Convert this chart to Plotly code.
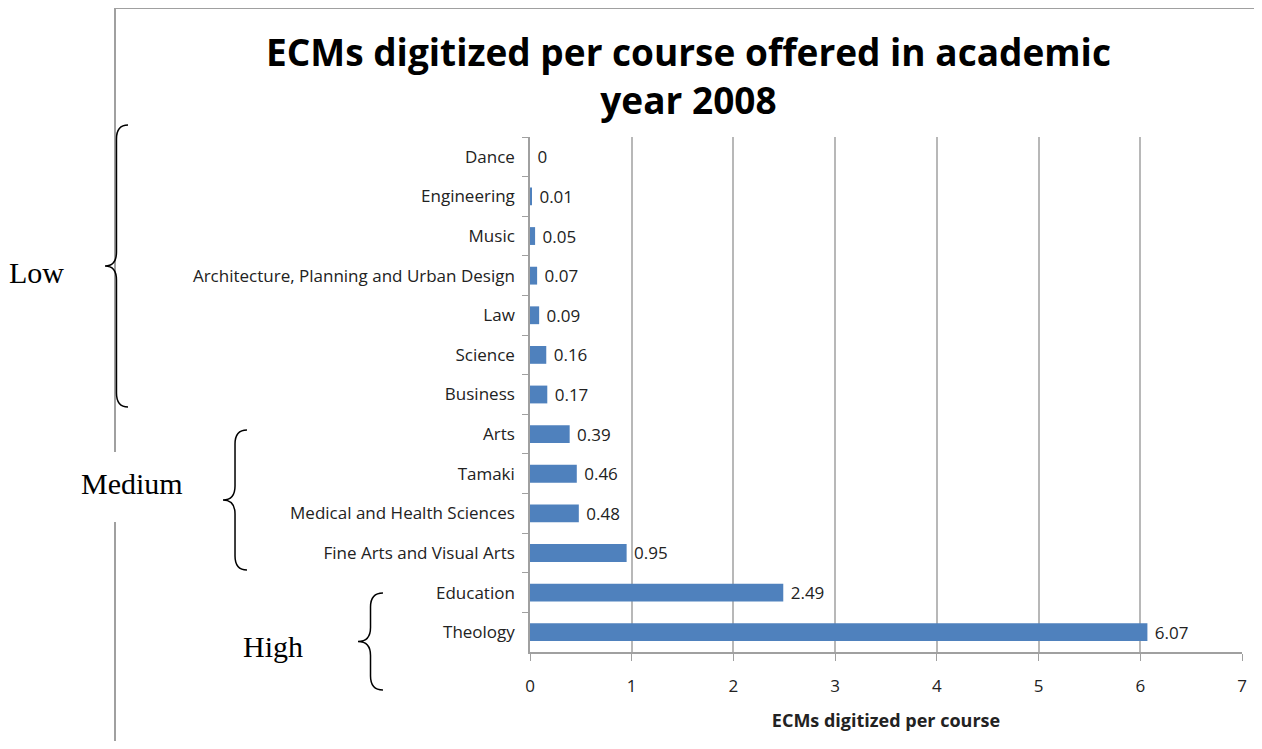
import plotly.graph_objects as go

# data, top to bottom as shown
courses = ['Dance', 'Engineering', 'Music', 'Architecture, Planning and Urban Design', 'Law',
           'Science', 'Business', 'Arts', 'Tamaki', 'Medical and Health Sciences',
           'Fine Arts and Visual Arts', 'Education', 'Theology']
ecms = [0, 0.01, 0.05, 0.07, 0.09, 0.16, 0.17, 0.39, 0.46, 0.48, 0.95, 2.49, 6.07]
x_ticks = [0, 1, 2, 3, 4, 5, 6, 7]
groups = ['Low', 'Medium', 'High']

# page body has an 8px margin -> figure is drawn at (8, 8)
OFF = 8
W, H = 1262 - 2 * OFF, 749 - 2 * OFF
ML, MT = 530 - OFF, 137 - OFF
PW, PH = 712, 515
MR, MB = W - ML - PW, H - MT - PH


def px(x):
    # screen x -> paper
    return (x - OFF - ML) / PW


def py(y):
    # screen y -> paper
    return (MT + PH - (y - OFF)) / PH


def brace(xe, xt, y0, y1, r=14):
    """ 왼쪽을 향한 중괄호 path (화면 픽셀 -> paper) """
    xm, ym = (xe + xt) / 2, (y0 + y1) / 2
    pts = [('M', [(xe, y0)]), ('Q', [(xm, y0), (xm, y0 + r)]), ('L', [(xm, ym - r)]),
           ('Q', [(xm, ym), (xt, ym)]), ('Q', [(xm, ym), (xm, ym + r)]), ('L', [(xm, y1 - r)]),
           ('Q', [(xm, y1), (xe, y1)])]
    return ' '.join(c + ' ' + ' '.join(f'{px(a):.4f},{py(b):.4f}' for a, b in p) for c, p in pts)


fig = go.Figure(go.Bar(
    x=ecms, y=courses, orientation='h',
    marker=dict(color='#4F81BD', line_width=0),
    text=[f' {v:g}' for v in ecms], textposition='outside', cliponaxis=False, constraintext='none',
    textfont=dict(family='Open Sans', size=17, color='#222'),
))

grey = '#A0A0A0'
shapes = [
    dict(type='line', xref='paper', yref='paper', x0=px(114), x1=px(1270), y0=py(8), y1=py(8),
         line=dict(color=grey, width=2)),
    dict(type='line', xref='paper', yref='paper', x0=px(115), x1=px(115), y0=py(8), y1=py(452),
         line=dict(color=grey, width=2)),
    dict(type='line', xref='paper', yref='paper', x0=px(115), x1=px(115), y0=py(522), y1=py(760),
         line=dict(color=grey, width=2)),
]
for xe, xt, y0, y1 in [(128, 105, 125, 407), (247, 223, 430, 570), (383, 358, 593, 690)]:
    shapes.append(dict(type='path', xref='paper', yref='paper', path=brace(xe, xt, y0, y1),
                       line=dict(color='black', width=1.5)))

annotations = [
    dict(text=t, x=px(x), y=py(y), xref='paper', yref='paper', showarrow=False,
         xanchor='center', yanchor='middle',
         font=dict(family='Liberation Serif', size=30, color='black'))
    for t, x, y in zip(groups, [37, 132, 273], [272, 483, 646])
]
annotations.append(dict(
    text='<b>ECMs digitized per course offered in academic<br>year 2008</b>',
    x=px(688), y=py(75), xref='paper', yref='paper', showarrow=False,
    xanchor='center', yanchor='middle',
    font=dict(family='Open Sans', size=37, color='black'),
))

fig.update_layout(
    width=W, height=H, margin=dict(l=ML, r=MR, t=MT, b=MB),
    plot_bgcolor='white', paper_bgcolor='white', showlegend=False,
    bargap=0.55,
    xaxis=dict(range=[0, 7], tickvals=x_ticks, showgrid=True, gridcolor='#B8B8B8', gridwidth=1.5,
               showline=True, linecolor=grey, linewidth=1.5, ticks='outside', ticklen=7,
               tickcolor=grey, zeroline=False, ticklabelstandoff=11, automargin=False,
               tickfont=dict(family='Open Sans', size=17, color='#222'),
               title=dict(text='<b>ECMs digitized per course</b>', standoff=18,
                          font=dict(family='Open Sans', size=18, color='#222'))),
    yaxis=dict(autorange='reversed', showline=True, linecolor=grey, linewidth=1.5,
               ticks='outside', ticklen=6, tickcolor=grey, tickson='boundaries',
               ticklabelstandoff=10, showgrid=False, automargin=False,
               tickfont=dict(family='Open Sans', size=17, color='#222')),
    shapes=shapes, annotations=annotations,
)

fig.write_html('out.html')
